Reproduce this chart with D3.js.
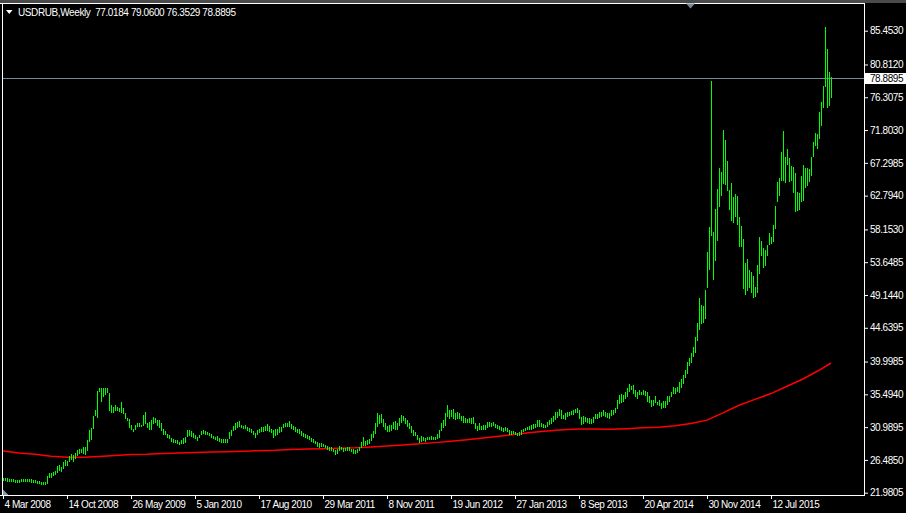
<!DOCTYPE html>
<html><head><meta charset="utf-8">
<script src="https://cdn.jsdelivr.net/npm/d3@7"></script>
<style>html,body{margin:0;padding:0;background:#000;overflow:hidden}svg{display:block}</style>
</head><body>
<svg id="c" width="906" height="513"></svg>
<script>
const chartTitle = "USDRUB,Weekly  77.0184 79.0600 76.3529 78.8895";
const lastPrice = 78.8895;

const lows = [
23.70,23.72,23.65,23.60,23.62,23.58,23.42,23.45,23.40,23.55,
23.58,23.55,23.52,23.56,23.50,23.48,23.40,23.35,23.25,23.20,
23.15,23.20,23.35,24.15,24.20,24.35,24.55,24.85,25.10,25.00,
25.35,25.85,25.80,26.30,26.55,26.40,26.80,27.20,27.40,27.55,
27.45,27.25,27.90,29.10,29.40,30.90,32.60,32.40,35.90,34.60,
35.20,35.60,35.80,33.30,33.10,33.10,33.30,33.30,33.20,33.10,
32.90,32.20,31.95,31.05,30.80,30.50,30.80,31.10,31.20,31.10,
31.30,31.50,30.97,30.70,30.80,31.50,31.70,31.30,31.05,30.60,
30.10,30.05,29.70,29.45,29.10,29.00,28.95,28.80,28.70,28.80,
28.85,28.98,29.80,29.85,29.80,29.67,29.45,29.20,29.65,30.05,
30.20,30.05,30.00,29.90,29.70,29.45,29.35,29.20,29.10,29.00,
28.95,28.95,29.00,29.45,29.85,30.60,30.70,31.00,31.10,31.00,
30.90,30.90,30.60,30.40,30.30,30.05,29.65,30.05,30.30,30.50,
30.50,30.60,30.60,30.50,30.30,29.65,29.90,30.10,30.35,30.40,
30.95,31.15,31.20,31.10,30.85,30.80,30.40,30.30,30.20,29.95,
29.75,29.60,29.50,29.30,29.10,28.90,28.80,28.45,28.30,28.35,
28.40,28.20,27.95,27.85,27.90,27.70,27.30,27.50,27.80,27.95,
27.75,27.80,27.85,27.90,27.70,27.40,27.45,27.60,27.80,28.20,
28.60,28.50,28.70,28.75,29.20,29.60,30.20,31.20,31.60,31.70,
31.10,30.80,30.40,30.50,30.60,30.90,30.80,30.70,31.30,31.70,
31.90,31.60,31.10,30.90,30.30,29.90,29.90,29.40,28.95,29.15,
29.20,29.10,29.30,29.30,29.40,29.30,29.30,29.50,29.60,30.60,
31.00,31.30,32.50,32.30,32.50,32.30,32.10,32.20,32.20,32.00,
31.70,31.70,31.65,31.70,31.60,31.50,30.90,30.60,30.80,30.70,
30.80,30.70,31.00,31.10,31.10,31.30,31.00,30.90,30.80,30.60,
30.50,30.60,30.40,30.00,30.10,30.15,30.05,29.90,29.90,30.10,
30.45,30.55,30.70,30.80,30.80,30.90,31.00,31.20,31.20,31.10,
31.00,31.00,31.10,31.40,31.60,31.80,32.10,32.40,32.70,32.30,
32.30,32.05,32.50,32.60,32.80,32.85,33.00,33.10,32.30,31.40,
31.50,31.85,31.75,31.60,31.50,31.75,32.20,32.30,32.40,32.50,
32.60,32.50,32.40,32.30,32.60,32.80,33.00,33.60,34.35,34.50,
34.60,35.00,35.30,35.90,36.20,35.70,35.30,35.00,35.50,35.50,
35.50,35.40,34.60,34.50,33.90,34.00,34.40,34.20,34.00,33.60,
33.80,33.80,34.20,34.60,35.30,35.70,35.70,35.90,35.85,36.55,
37.00,37.90,38.40,39.50,40.00,40.70,41.35,43.00,44.50,45.30,
45.50,46.00,50.20,52.70,57.40,51.30,53.90,56.70,61.40,62.90,
64.50,64.40,63.60,60.90,59.50,59.20,60.00,58.90,55.90,55.90,
50.10,49.30,49.80,50.30,49.60,48.80,49.00,49.60,52.10,54.70,
53.00,53.30,54.70,56.15,56.25,56.60,58.30,62.10,62.90,64.90,
65.00,64.70,67.10,64.85,65.00,63.35,60.70,60.80,60.90,62.00,
62.20,64.00,64.30,64.85,65.60,68.20,69.75,69.40,70.70,72.50,
75.00,77.80,75.00,75.20,76.3529];

const highs = [
24.05,24.02,23.95,23.90,23.92,23.85,23.75,23.78,23.70,23.85,
23.88,23.86,23.84,23.88,23.80,23.78,23.68,23.62,23.55,23.48,
23.40,23.50,24.30,24.65,24.70,24.80,25.00,25.65,25.75,25.55,
26.20,26.50,26.40,27.00,27.30,27.10,27.50,27.80,27.95,28.05,
28.20,28.30,29.20,30.60,30.90,32.50,33.40,36.00,36.40,36.40,
36.40,36.30,36.40,35.70,34.00,33.80,34.00,33.80,33.60,34.50,
33.60,32.90,32.20,32.10,31.30,30.80,31.30,31.60,31.60,31.35,
32.70,33.00,31.60,31.70,32.00,32.40,32.20,32.00,32.00,31.50,
30.80,30.40,30.10,29.90,29.45,29.30,29.20,29.20,29.00,29.20,
29.45,29.67,30.60,30.60,30.50,30.20,29.90,29.70,29.90,30.50,
30.60,30.40,30.30,30.20,30.10,29.80,29.70,29.80,29.45,29.35,
29.40,29.40,29.30,30.35,30.60,31.15,31.50,31.70,31.80,31.30,
31.15,31.30,31.00,30.90,30.70,30.40,30.20,30.60,30.70,31.00,
31.00,31.20,31.40,31.20,30.70,30.60,30.70,30.80,31.00,30.95,
31.40,31.60,31.60,31.80,31.40,31.10,30.95,30.80,30.70,30.45,
30.20,30.00,29.95,29.80,29.55,29.30,29.10,28.95,28.75,28.80,
28.70,28.60,28.35,28.20,28.30,28.05,27.90,28.00,28.35,28.30,
28.15,28.15,28.20,28.25,28.05,27.95,27.85,28.05,28.30,28.90,
29.60,29.05,29.20,29.40,30.10,30.50,31.60,32.90,32.70,32.80,
32.10,31.60,31.20,31.30,31.35,31.75,31.80,31.50,32.20,32.60,
32.45,32.30,31.95,31.60,31.10,30.55,30.35,29.95,29.45,29.80,
29.60,29.45,29.65,29.60,29.75,29.60,29.70,30.00,30.60,31.50,
32.00,32.90,34.00,33.30,33.40,33.45,32.90,33.00,32.90,32.55,
32.50,32.20,32.05,32.20,32.25,32.40,31.60,31.20,31.50,31.20,
31.30,31.30,31.70,31.75,31.60,31.70,31.45,31.25,31.10,31.00,
30.90,30.95,30.90,30.60,30.45,30.40,30.35,30.20,30.30,30.60,
30.80,30.85,31.00,31.10,31.30,31.40,31.45,32.00,31.90,31.60,
31.40,31.30,31.70,31.95,32.25,32.45,33.00,33.10,33.45,33.30,
32.65,32.97,33.10,33.10,33.25,33.30,33.45,33.60,33.30,32.40,
32.50,32.40,32.30,32.20,32.10,32.40,32.80,32.80,33.00,33.10,
33.40,33.00,32.90,32.90,33.30,33.40,33.60,34.70,35.40,35.50,
35.40,35.85,36.30,36.90,36.60,36.80,36.10,35.85,36.10,35.85,
36.10,36.00,35.85,35.30,34.70,34.75,35.25,34.50,34.75,34.35,
34.60,34.60,35.30,35.30,35.85,36.55,36.30,36.50,37.20,37.60,
38.15,38.90,40.00,40.45,41.20,41.95,43.40,45.30,48.70,47.80,
47.60,49.80,55.00,58.50,78.60,57.85,60.90,63.65,66.55,66.10,
71.80,70.40,67.50,63.50,64.50,62.60,63.00,62.75,59.90,58.60,
56.90,53.60,54.05,52.60,52.30,51.70,50.20,53.30,57.15,56.50,
55.60,55.30,56.00,57.70,57.15,58.75,61.40,64.70,65.20,68.80,
71.70,68.10,69.20,67.90,66.80,66.70,65.90,63.35,63.10,65.50,
67.00,66.55,66.55,66.40,68.10,70.10,71.40,71.30,74.30,75.70,
77.80,85.98,82.90,79.80,79.06];

const maIndex = [0,8,16,24,32,40,48,56,64,72,80,88,96,104,112,120,128,136,144,152,160,168,176,184,192,200,208,216,224,232,240,248,256,264,272,280,288,296,304,312,320,328,336,344,352,360,368,376,384,392,400,408,414];
const maValues = [27.71,27.45,27.25,27.00,26.86,26.84,26.95,27.10,27.22,27.27,27.38,27.43,27.52,27.56,27.62,27.68,27.75,27.80,27.90,27.97,28.03,28.08,28.14,28.25,28.40,28.55,28.70,28.86,29.05,29.25,29.48,29.74,30.00,30.24,30.45,30.62,30.72,30.74,30.70,30.78,30.90,30.97,31.17,31.48,31.95,32.95,34.00,34.80,35.60,36.60,37.60,38.80,39.80];

const priceTicks = [85.4530,80.8120,76.3075,71.8030,67.2985,62.7940,58.1530,53.6485,49.1440,44.6395,39.9985,35.4940,30.9895,26.4850,21.9805];
const dateTickIndex = [0,32,64,96,128,160,192,224,256,288,320,352,384];
const dateTickLabels = ["4 Mar 2008","14 Oct 2008","26 May 2009","5 Jan 2010","17 Aug 2010","29 Mar 2011","8 Nov 2011","19 Jun 2012","27 Jan 2013","8 Sep 2013","20 Apr 2014","30 Nov 2014","12 Jul 2015"];

const FONT = "'Liberation Sans', Arial, sans-serif";
const svg = d3.select("#c");
const L = 2, R = 864, T = 3, B = 495;

const x = d3.scaleLinear().domain([0, lows.length - 1]).range([3, 3 + 2 * (lows.length - 1)]);
const y = d3.scaleLinear().domain([21.9805, 85.4530]).range([492.7, 30.7]);

svg.append("rect").attr("width", 906).attr("height", 513).attr("fill", "#000");
svg.append("rect").attr("width", 906).attr("height", 3).attr("fill", "#4a4a4a");

svg.append("defs").append("clipPath").attr("id", "plot")
  .append("rect").attr("x", L + 1).attr("y", T + 1).attr("width", R - L - 1).attr("height", B - T - 1);

const plot = svg.append("g").attr("clip-path", "url(#plot)");

// price (bid) line
const py = Math.round(y(lastPrice)) + 0.5;
plot.append("line").attr("x1", L).attr("x2", R).attr("y1", py).attr("y2", py)
  .attr("stroke", "#778899").attr("stroke-width", 1).attr("shape-rendering", "crispEdges");

// moving average
const maPts = maIndex.map((d, k) => [d, maValues[k]]);
plot.append("path").datum(maPts)
  .attr("d", d3.line().x(d => x(d[0])).y(d => y(d[1])))
  .attr("fill", "none").attr("stroke", "#ff0000").attr("stroke-width", 1.5);

// bars
plot.append("g").selectAll("line").data(d3.range(lows.length)).join("line")
  .attr("x1", i => Math.round(x(i)) + 0.5).attr("x2", i => Math.round(x(i)) + 0.5)
  .attr("y1", i => Math.round(y(highs[i])))
  .attr("y2", i => Math.round(y(lows[i])) + 1)
  .attr("stroke", "#00ff00").attr("stroke-width", 1).attr("shape-rendering", "crispEdges");

// borders
const border = svg.append("g").attr("stroke", "#fff").attr("shape-rendering", "crispEdges");
border.append("line").attr("x1", 0).attr("x2", R + 1).attr("y1", T + 0.5).attr("y2", T + 0.5);
border.append("line").attr("x1", L + 0.5).attr("x2", L + 0.5).attr("y1", T).attr("y2", B + 1);
border.append("line").attr("x1", R + 0.5).attr("x2", R + 0.5).attr("y1", T).attr("y2", B + 1);
border.append("line").attr("x1", 0).attr("x2", R + 1).attr("y1", B + 0.5).attr("y2", B + 0.5);

// right axis
const ya = svg.append("g").attr("transform", `translate(${R},0)`)
  .call(d3.axisRight(y).tickValues(priceTicks).tickSize(4).tickPadding(2).tickFormat(d => d.toFixed(4)));
ya.select(".domain").remove();
ya.selectAll("line").attr("stroke", "#fff");
ya.selectAll("text").attr("fill", "#fff").attr("font-family", FONT).attr("font-size", 10).attr("letter-spacing", -0.45);

// last price label
svg.append("rect").attr("x", R + 1).attr("y", py - 5.5).attr("width", 906 - R - 1).attr("height", 11).attr("fill", "#fff");
svg.append("text").attr("x", R + 6).attr("y", py).attr("dy", "0.34em").text(lastPrice.toFixed(4))
  .attr("fill", "#000").attr("font-family", FONT).attr("font-size", 10).attr("letter-spacing", -0.45);

// bottom axis
const xa = svg.append("g").attr("transform", `translate(0,${B})`)
  .call(d3.axisBottom(x).tickValues(dateTickIndex).tickSize(4).tickPadding(2).tickFormat((d, k) => dateTickLabels[k]));
xa.select(".domain").remove();
xa.selectAll("line").attr("stroke", "#fff");
xa.selectAll("text").attr("fill", "#fff").attr("text-anchor", "start").attr("x", 1)
  .attr("font-family", FONT).attr("font-size", 10).attr("letter-spacing", -0.45);

// title
svg.append("path").attr("d", "M6,10L12.5,10L9.25,14Z").attr("fill", "#fff");
svg.append("text").attr("x", 18).attr("y", 16).text(chartTitle)
  .style("white-space", "pre").attr("fill", "#fff").attr("font-family", FONT)
  .attr("font-size", 10).attr("letter-spacing", -0.4);

// markers
svg.append("path").attr("d", "M686,3.5L695,3.5L690.5,8.5Z").attr("fill", "#778899");
svg.append("path").attr("d", "M3,489.5L3,495L8.5,495Z").attr("fill", "#8a96a6");
</script>
</body></html>
